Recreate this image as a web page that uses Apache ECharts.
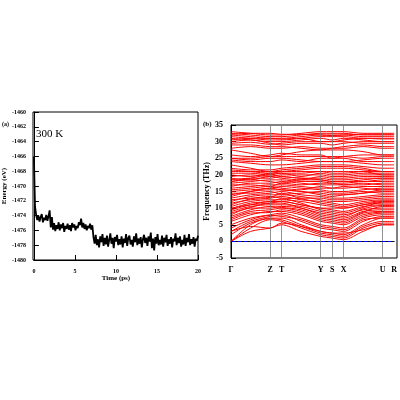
<!DOCTYPE html><html><head><meta charset="utf-8"><script src="https://cdn.jsdelivr.net/npm/echarts@6/dist/echarts.min.js"></script></head><body style="margin:0"><div id="c" style="width:400px;height:400px"></div><script>
const energy=[-1466,-1472.8,-1473.9,-1474.6,-1474.0,-1474.8,-1474.2,-1473.8,-1474.9,-1474.3,-1474.6,-1473.9,-1474.7,-1474.1,-1473.3,
-1475.6,-1474.2,-1475.9,-1475.0,-1476.1,-1475.3,-1475.8,-1474.9,-1476.0,-1475.2,-1475.7,-1475.0,-1476.2,-1475.4,-1475.8,-1475.1,-1475.9,-1475.3,-1476.1,-1475.0,-1475.6,-1475.2,-1476.0,-1475.4,-1475.7,-1474.9,-1475.3,-1474.4,-1475.6,-1475.0,-1475.8,-1475.2,-1476.0,-1475.4,-1475.7,-1475.1,-1475.9,-1475.3,
-1476.9,-1477.8,-1476.6,-1478.0,-1477.2,-1478.3,-1476.8,-1477.6,-1476.5,-1478.1,-1477.0,-1477.9,-1476.7,-1478.2,-1477.3,-1476.4,-1477.8,-1477.0,-1478.4,-1476.9,-1477.5,-1476.6,-1478.0,-1477.2,-1477.9,-1476.8,-1478.3,-1477.1,-1477.7,-1476.5,-1478.1,-1477.0,-1476.7,-1477.9,-1477.3,-1478.2,-1476.8,-1477.6,-1476.4,-1478.0,-1477.1,-1477.8,-1476.9,-1478.3,-1477.2,-1476.6,-1477.7,-1477.0,-1478.1,-1476.8,-1477.5,-1476.3,-1478.4,-1477.1,-1478.7,-1476.9,-1477.8,-1476.5,-1478.0,-1477.3,-1477.9,-1476.7,-1478.2,-1477.0,-1477.6,-1476.6,-1478.1,-1477.2,-1477.8,-1476.9,-1478.3,-1477.1,-1477.5,-1476.4,-1478.0,-1477.0,-1477.7,-1476.8,-1478.2,-1477.3,-1477.9,-1476.6,-1478.1,-1477.0,-1477.6,-1476.5,-1478.0,-1477.2,-1477.8,-1476.9,-1478.2,-1477.1,-1477.4,-1476.7];
const tMax=20;
const kPos=[0,0.12,0.24,0.31,0.43,0.55,0.62,0.69,0.81,0.93,1.0];
const kTickPos=[0,0.24,0.31,0.55,0.62,0.69,0.93,1.0];
const kLabels=['Γ','Z','T','Y','S','X','U','R'];
const bands=[
[0,3,4,5,3,1.5,1,0.5,3,5,5],[0,4,6.5,6,4,2,1.5,1,4,5.5,5.5],[0,5,7,7,5,3,2.5,2,5,7,7],
[3,6,7.5,8,6,4,3.5,3,6,7.5,7.5],[5,7,8,8.5,7,5,4.5,4,7,8,8],[6,8,9,9,8,6,5.5,5,7.5,8.5,8.5],
[7,9,9.5,10,9,7,6.5,6,8.5,9,9],[8,10,10,10.5,10,8,7.5,7,9,9.5,9.5],[9,10.5,11,11,10.5,9,8.5,8,9.5,10,10],
[10,11,11.5,12,11,10,9.5,9,10.5,11,11],[10.5,12,12.5,12.5,12,11,10.5,10,11,11.5,11.5],[11.5,12.5,13,13.5,12.5,12,11.5,11,12,12.5,12.5],
[12,13.5,14,14,13.5,12.5,12,12,12.5,13,13],[13,14,14.5,15,14,13.5,13,13,13.5,14,14],[14,15,15.5,15.5,15,14.5,14,14,14.5,15,15],
[15,15.5,16,16.5,16,15.5,15,15,15.5,16,16],[16,16.5,17,17,16.5,16,16,16,16.5,16.5,16.5],[16.5,17.5,17.5,18,17.5,17,17,17,17,17.5,17.5],
[17.5,18,18.5,18.5,18,18,17.5,17.5,18,18,18],[18.5,19,19,19.5,19,19,18.5,18.5,19,19,19],[19.5,20,19.5,20,20,20,19.5,19.5,20,20,20],
[20.5,20.5,20,20.5,20.5,21,20.5,20.5,21,20,20],[21,21,21,21,21,21,21,21,21,21,21],
[23,22,21,21.5,22,22.5,22.5,22.5,22,21,21],[24,23.5,23,23,23.5,24,24,24,23.5,23,23],[25,24.5,25,25,24.5,24,24,24,24.5,25,25],
[25,25,25.5,25.5,25.5,25.5,25.5,25.5,25,25.5,25.5],[27.5,26.5,25.5,26,27,27.5,27.5,27.5,27,26,26],[28,28.5,28,28,28.5,28,28,28,28.5,28,28],
[29,29,28.5,28.5,28,27.5,28,28.5,29,28.5,28.5],[30,30.5,29.5,29,29.5,29.5,29,29.5,30,30,30],[31,30.5,30,30,30.5,31,30.5,31,30.5,30,30],
[31.5,31,30.5,30.5,31,31.5,31.5,31.5,31,31,31],[32,31.5,31,31,31.5,32,32,32,31.5,31.5,31.5],[32.5,32,31.5,31.5,32,32.5,32.5,32.5,32,32,32],
[33,32.5,32,32,32.5,33,33,33,32.5,32.5,32.5],[9.5,11,12,12,11,10,10,10,11,12,12],[13.5,15,16,15.5,15,14,13.5,14,14.5,15.5,15.5],
[18,19,20,19.5,19,18.5,18,18,18.5,19,19],[21.5,21,20.5,21,21.5,22,22,22,21.5,21,21],
[2,5.5,6.8,6.5,4.5,2.5,2,1.5,4.5,6,6],[4,6.5,7.8,7.5,6.5,4.5,4,3.5,6.5,7,7],[6.5,8.5,8.7,9.5,8.5,6.5,6,5.5,8,8.8,8.8],
[7.5,9.5,10.5,10.2,9.5,7.5,7,6.5,8.8,10.5,10.5],[8.5,10.2,11.5,11.5,10,8.5,8,7.5,9.8,10.8,10.8],[9.8,11.5,12,12.8,11.5,9.5,9,8.5,10.2,11.8,11.8],
[11,12.8,13.5,13,12.8,11.5,11,10.5,11.5,12.2,12.2],[12.5,13,13.2,14.5,13,13,12.5,12.5,13,13.5,13.5],[14.5,14.5,15,14.2,14.5,15,14.5,14.5,15,14.5,14.5],
[15.5,16,16.5,16,15.5,16.5,16,16.5,16,15.5,15.5],[17,17,16.5,17.5,17,17.5,17.5,17,17.5,17,17],[18,18.5,18,17.5,18.5,18.5,18,18,18,18.5,18.5],
[19,18.5,19.5,19,18.5,19.5,19,19,19.5,19.5,19.5],[20,19.5,20.5,20.5,19.5,20.5,20,20,20.5,20.5,20.5],[22,21.5,21.5,22,22.5,23,23,23,22.5,22,22],
[24.5,24,24,24.5,24,25,25,25,24,24,24],[26,25.5,26,26.5,26,26,25,25.5,26,26,26],[29.5,29.8,29.2,29.5,30,30,30,30,29.5,29.5,29.5],
[30.5,31,31,30.8,31,30,30,30.5,31,30.8,30.8],[32.2,32.5,32.5,32.2,32.2,32,31.8,32,32.2,32.2,32.2],[3,4.5,4,5.5,4.5,3,2.5,2.5,3.5,5,5]
];
const f='Times New Roman, Liberation Serif, serif';
const series=[{type:'line',xAxisIndex:0,yAxisIndex:0,data:energy.map((v,i)=>[i*tMax/(energy.length-1),v]),symbol:'none',lineStyle:{color:'#000',width:1.8}}];
bands.forEach(b=>series.push({type:'line',xAxisIndex:1,yAxisIndex:1,data:b.map((v,i)=>[kPos[i],v]),symbol:'none',smooth:0.3,lineStyle:{color:'#f00',width:1},silent:true}));
series.push({type:'line',xAxisIndex:1,yAxisIndex:1,data:[],markLine:{symbol:'none',silent:true,label:{show:false},data:[...kTickPos.slice(1,7).map(x=>({xAxis:x,lineStyle:{color:'#777',type:'solid',width:0.8}})),{yAxis:0,lineStyle:{color:'#0000ff',type:'dashed',width:1}}]}});
const ax={axisLine:{lineStyle:{color:'#000'}},axisTick:{inside:true,lineStyle:{color:'#000'}},axisLabel:{color:'#000',fontFamily:f,fontWeight:'bold',fontSize:6,formatter:v=>String(v)},splitLine:{show:false}};
const chart=echarts.init(document.getElementById('c'));
chart.setOption({animation:false,
grid:[{left:33,right:202,top:112,bottom:140},{left:231,right:3,top:125,bottom:142}],
xAxis:[{...ax,type:'value',gridIndex:0,min:0,max:20,interval:5,name:'Time (ps)',nameLocation:'middle',nameGap:11,nameTextStyle:{fontFamily:f,fontWeight:'bold',fontSize:7}},
{...ax,type:'value',gridIndex:1,min:0,max:1,axisTick:{show:false},axisLabel:{...ax.axisLabel,fontSize:8,customValues:kTickPos,formatter:v=>kLabels[kTickPos.findIndex(p=>Math.abs(p-v)<1e-6)]}}],
yAxis:[{...ax,type:'value',gridIndex:0,min:-1480,max:-1460,interval:2,name:'Energy (eV)',nameLocation:'middle',nameGap:24,nameTextStyle:{fontFamily:f,fontWeight:'bold',fontSize:7}},
{...ax,type:'value',gridIndex:1,min:-5,max:35,interval:5,axisLabel:{...ax.axisLabel,fontSize:8},name:'Frequency (THz)',nameLocation:'middle',nameGap:16,nameTextStyle:{fontFamily:f,fontWeight:'bold',fontSize:8}}],
series,
graphic:[{type:'text',left:2,top:121,style:{text:'(a)',font:'bold 6px '+f,fill:'#000'}},
{type:'text',left:203,top:121,style:{text:'(b)',font:'bold 7px '+f,fill:'#000'}},
{type:'text',left:36,top:129,style:{text:'300 K',font:'11px '+f,fill:'#000'}},
{type:'rect',shape:{x:33,y:112,width:165,height:148},style:{fill:'none',stroke:'#000',lineWidth:1}},
{type:'rect',shape:{x:231,y:125,width:166,height:133},style:{fill:'none',stroke:'#000',lineWidth:1}}]
});
</script></body></html>
